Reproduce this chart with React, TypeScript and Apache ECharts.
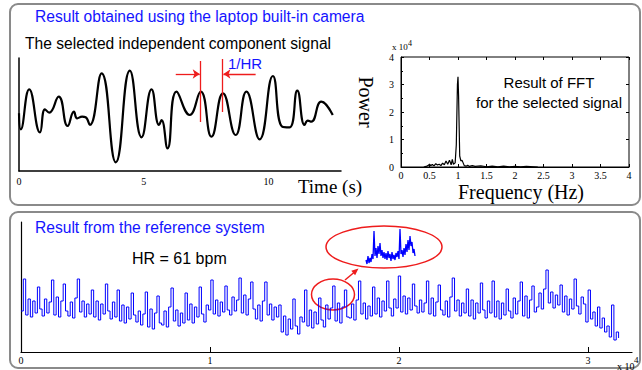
import React, { useEffect, useRef } from "react";
import * as echarts from "echarts";

// ---- Top-left: selected independent component signal (time s, amplitude) ----
const SIG_T = [0, 0.07, 0.41, 0.84, 1.04, 1.21, 1.59, 1.95, 2.2, 2.33, 2.53, 2.67, 2.84, 3.31, 3.88, 4.44, 4.91, 5.31, 5.61, 5.71, 5.95, 6.31, 6.84, 7.28, 7.71, 8.17, 8.68, 9.11, 9.64, 10.17, 10.55, 10.84, 11.15, 11.44, 11.57, 11.71, 12.11, 12.57];
const SIG_V = [0.37, -1.23, 2.77, -1.53, 0.77, 0.43, 2.03, -0.9, 0.53, -0.13, 0.03, -0.03, -0.8, 4.37, -4.53, 4.63, -2.03, 2.77, -0.8, -0.3, -3.13, 2.53, 0.2, 2.53, -1.97, 2.37, -1.8, 2.53, -2.23, 4.1, -0.97, -1.03, 2.63, -0.8, -0.37, -0.47, 1.53, 0.2];
const SIG_TICKS = [0, 5, 10];

// ---- Top-right: FFT of the selected signal (Hz, power x10^4) ----
const FFT_F = [0.4, 0.44, 0.48, 0.5, 0.52, 0.55, 0.58, 0.61, 0.64, 0.67, 0.7, 0.73, 0.76, 0.79, 0.82, 0.85, 0.88, 0.9, 0.92, 0.95, 0.97, 0.99, 1.0, 1.01, 1.03, 1.05, 1.07, 1.09, 1.11, 1.14, 1.17, 1.2, 1.25, 1.3, 1.4, 1.5, 1.6, 1.7, 1.8, 1.9, 2.0, 2.1, 2.2, 2.4];
const FFT_P = [0, 0.02, 0.06, 0.1, 0.05, 0.09, 0.04, 0.12, 0.07, 0.1, 0.05, 0.14, 0.08, 0.22, 0.1, 0.25, 0.08, 0.28, 0.1, 0.15, 0.8, 3.0, 3.28, 2.6, 0.4, 0.22, 0.25, 0.15, 0.05, 0.03, 0.06, 0.02, 0.05, 0.02, 0.04, 0.01, 0.03, 0.01, 0.03, 0.01, 0.02, 0.01, 0.02, 0];

// ---- Bottom: reference system signal (sample index, amplitude) ----
const REF_STEP = 124;
const REF_V = [
  41, 73, 37, 53, 35, 51, 39, 65, 43, 36,
  53, 39, 50, 72, 37, 55, 35, 51, 68, 41,
  36, 50, 34, 54, 73, 40, 51, 35, 48, 38,
  62, 35, 51, 32, 48, 38, 68, 41, 33, 50,
  35, 62, 31, 47, 29, 45, 33, 59, 37, 30,
  41, 27, 38, 60, 25, 43, 23, 39, 56, 29,
  27, 41, 25, 45, 64, 31, 42, 26, 39, 29,
  59, 32, 48, 29, 45, 35, 65, 38, 30, 47,
  42, 72, 38, 52, 36, 50, 40, 66, 42, 37,
  55, 41, 52, 74, 39, 57, 37, 53, 70, 43,
  33, 47, 31, 51, 70, 37, 48, 32, 45, 35,
  47, 20, 36, 17, 33, 23, 53, 26, 18, 35,
  30, 62, 26, 42, 24, 40, 28, 54, 32, 25,
  47, 33, 44, 66, 31, 49, 29, 45, 62, 35,
  34, 48, 32, 52, 71, 38, 49, 33, 46, 36,
  65, 38, 54, 35, 51, 41, 71, 44, 36, 53,
  44, 76, 40, 56, 38, 54, 42, 68, 46, 39,
  52, 40, 49, 71, 38, 54, 36, 50, 67, 42,
  37, 51, 35, 55, 74, 41, 52, 36, 49, 39,
  63, 36, 52, 33, 49, 39, 69, 42, 34, 51,
  39, 71, 35, 51, 33, 49, 37, 63, 41, 34,
  54, 38, 51, 70, 36, 56, 34, 52, 66, 40,
  45, 59, 43, 63, 82, 49, 60, 44, 57, 47,
  67, 40, 56, 37, 53, 43, 73, 46, 38, 55,
  48, 30, 62, 33, 40, 26, 45, 24, 34, 20,
  26, 15, 47, 12, 20, 14,
];
const REF_TICKS = [0, 10000, 20000, 30000];

// ---- Inset: magnified piece of the reference signal ----
const INSET_V = [8, 4, 12, 5, 10, 6, 14, 9, 37, 12, 20, 10, 22, 14, 25, 12, 18, 10, 16, 9, 15, 8, 17, 10, 14, 7, 16, 9, 13, 8, 15, 11, 17, 9, 39, 14, 18, 11, 20, 13, 24, 16, 28, 18, 32, 22, 26, 15, 19, 12];

const SANS = "'Liberation Sans', Arial, sans-serif";
const SERIF = "'Liberation Serif', 'Times New Roman', serif";
const BLUE = "#1414ff";
const RED = "#ee1c1c";

export default function App() {
  const ref = useRef<HTMLDivElement>(null);
  useEffect(() => {
    if (!ref.current) return;
    const chart = echarts.init(ref.current, undefined, { renderer: "svg" });
    const sigData = SIG_T.map((t, i) => [t, SIG_V[i]]);
    const fftData = FFT_F.map((f, i) => [f, FFT_P[i]]);
    const refData = REF_V.map((v, i) => [i * REF_STEP, v]);
    const insetData = INSET_V.map((v, i) => [i, v]);

    const tickLabel = { fontFamily: SERIF, fontSize: 10, color: "#000" };
    const hidden = { show: false };

    const option: any = {
      animation: false,
      grid: [
        { left: 19, top: 58, width: 322, height: 113 },
        { left: 401, top: 57, width: 228, height: 110, show: true, borderColor: "#000", borderWidth: 1 },
        { left: 21, top: 222, width: 611, height: 130 },
        { left: 366, top: 228, width: 49, height: 40 },
      ],
      xAxis: [
        {
          gridIndex: 0, type: "value", min: 0, max: 12.9, interval: 5,
          axisLine: { show: true, onZero: false, lineStyle: { color: "#000", width: 1.5 } },
          axisTick: hidden, splitLine: hidden,
          axisLabel: { ...tickLabel, margin: 5, customValues: SIG_TICKS },
        },
        {
          gridIndex: 1, type: "value", min: 0, max: 4, interval: 0.5,
          axisLine: { show: true, onZero: false, lineStyle: { color: "#000", width: 1 } },
          axisTick: { inside: true, length: 3, lineStyle: { color: "#000" } },
          splitLine: hidden,
          axisLabel: { ...tickLabel, margin: 3 },
        },
        {
          gridIndex: 1, type: "value", position: "top", min: 0, max: 4, interval: 0.5,
          axisLine: { show: false, onZero: false }, axisLabel: hidden, splitLine: hidden,
          axisTick: { inside: true, length: 3, lineStyle: { color: "#000" } },
        },
        {
          gridIndex: 2, type: "value", min: 0, max: 32330, interval: 10000,
          axisLine: { show: true, onZero: false, lineStyle: { color: "#000", width: 1.2 } },
          axisTick: { inside: true, length: 5, lineStyle: { color: "#000" }, customValues: REF_TICKS },
          splitLine: hidden,
          axisLabel: { ...tickLabel, margin: 3, customValues: REF_TICKS, formatter: (v: number) => String(v / 10000) },
        },
        { gridIndex: 3, type: "value", min: 0, max: INSET_V.length - 1, show: false },
      ],
      yAxis: [
        {
          gridIndex: 0, type: "value", min: -5.4, max: 5.9,
          axisLine: { show: true, onZero: false, lineStyle: { color: "#000", width: 1.5 } },
          axisTick: hidden, axisLabel: hidden, splitLine: hidden,
        },
        {
          gridIndex: 1, type: "value", min: 0, max: 4, interval: 1,
          axisLine: { show: true, onZero: false, lineStyle: { color: "#000", width: 1 } },
          axisTick: { inside: true, length: 3, lineStyle: { color: "#000" } },
          minorTick: { show: true, splitNumber: 2, length: 2, lineStyle: { color: "#000" } },
          splitLine: hidden,
          axisLabel: { ...tickLabel, margin: 7 },
        },
        {
          gridIndex: 1, type: "value", position: "right", min: 0, max: 4, interval: 1,
          axisLine: { show: false, onZero: false }, axisLabel: hidden, splitLine: hidden,
          axisTick: { inside: true, length: 3, lineStyle: { color: "#000" } },
        },
        {
          gridIndex: 2, type: "value", min: 0, max: 130,
          axisLine: { show: true, onZero: false, lineStyle: { color: "#000", width: 1.2 } },
          axisTick: hidden, axisLabel: hidden, splitLine: hidden,
        },
        { gridIndex: 3, type: "value", min: 0, max: 40, show: false },
      ],
      series: [
        {
          type: "line", xAxisIndex: 0, yAxisIndex: 0, data: sigData,
          smooth: 0.5, showSymbol: false, symbol: "none",
          lineStyle: { color: "#000", width: 2.2 },
          markLine: {
            silent: true, symbol: ["none", "none"], symbolSize: 7,
            label: { show: false },
            lineStyle: { color: RED, width: 1.3, type: "solid" },
            data: [
              [{ coord: [7.28, 5.6] }, { coord: [7.28, -0.5] }],
              [{ coord: [8.15, 5.8] }, { coord: [8.15, 0.5] }],
              [{ coord: [6.28, 4.3] }, { coord: [7.24, 4.3], symbol: "arrow" }],
              [{ coord: [9.48, 4.3] }, { coord: [8.19, 4.3], symbol: "arrow" }],
            ],
          },
        },
        {
          type: "line", xAxisIndex: 1, yAxisIndex: 1, data: fftData,
          showSymbol: false, symbol: "none",
          lineStyle: { color: "#000", width: 1.2 },
        },
        {
          type: "line", xAxisIndex: 3, yAxisIndex: 3, data: refData,
          showSymbol: false, symbol: "none", step: "end",
          lineStyle: { color: "#0000ff", width: 1 },
        },
        {
          type: "line", xAxisIndex: 4, yAxisIndex: 4, data: insetData,
          showSymbol: false, symbol: "none",
          lineStyle: { color: "#0000ff", width: 1.3 },
        },
      ],
      graphic: [
        { type: "rect", shape: { x: 10, y: 4, width: 630, height: 201, r: 8 }, style: { fill: "none", stroke: "#8a8a8a", lineWidth: 2 }, z: -1 },
        { type: "rect", shape: { x: 10, y: 212, width: 630, height: 156, r: 8 }, style: { fill: "none", stroke: "#8a8a8a", lineWidth: 2 }, z: -1 },
        { type: "text", x: 35, y: 16, style: { text: "Result obtained using the laptop built-in camera", fill: BLUE, font: `15.6px ${SANS}`, textVerticalAlign: "middle" } },
        { type: "text", x: 25, y: 43, style: { text: "The selected independent component signal", fill: "#000", font: `15.6px ${SANS}`, textVerticalAlign: "middle" } },
        { type: "text", x: 228, y: 63, style: { text: "1/HR", fill: BLUE, font: `15px ${SANS}`, textVerticalAlign: "middle" } },
        { type: "text", x: 330, y: 186, style: { text: "Time (s)", fill: "#000", font: `19px ${SERIF}`, textAlign: "center", textVerticalAlign: "middle" } },
        { type: "text", x: 366, y: 102, rotation: -Math.PI / 2, style: { text: "Power", fill: "#000", font: `20px ${SERIF}`, textAlign: "center", textVerticalAlign: "middle" } },
        { type: "text", x: 392, y: 47, style: { text: "x 10", fill: "#000", font: `9px ${SERIF}`, textVerticalAlign: "middle" } },
        { type: "text", x: 408, y: 43, style: { text: "4", fill: "#000", font: `8px ${SERIF}`, textVerticalAlign: "middle" } },
        { type: "text", x: 549, y: 82, style: { text: "Result of FFT", fill: "#000", font: `15px ${SANS}`, textAlign: "center", textVerticalAlign: "middle" } },
        { type: "text", x: 549, y: 102, style: { text: "for the selected signal", fill: "#000", font: `15px ${SANS}`, textAlign: "center", textVerticalAlign: "middle" } },
        { type: "text", x: 521, y: 192, style: { text: "Frequency (Hz)", fill: "#000", font: `20px ${SERIF}`, textAlign: "center", textVerticalAlign: "middle" } },
        { type: "text", x: 35, y: 227, style: { text: "Result from the reference system", fill: BLUE, font: `15.6px ${SANS}`, textVerticalAlign: "middle" } },
        { type: "text", x: 132, y: 258, style: { text: "HR = 61 bpm", fill: "#000", font: `16px ${SANS}`, textVerticalAlign: "middle" } },
        { type: "text", x: 617, y: 366, style: { text: "x 10", fill: "#000", font: `10px ${SERIF}`, textVerticalAlign: "middle" } },
        { type: "text", x: 634, y: 360, style: { text: "4", fill: "#000", font: `9px ${SERIF}`, textVerticalAlign: "middle" } },
        { type: "ellipse", shape: { cx: 384, cy: 247, rx: 58, ry: 21 }, style: { fill: "none", stroke: RED, lineWidth: 1.5 } },
        { type: "ellipse", shape: { cx: 333, cy: 294.5, rx: 21.5, ry: 15.5 }, style: { fill: "none", stroke: RED, lineWidth: 1.5 } },
        { type: "line", shape: { x1: 345, y1: 280, x2: 354, y2: 272.5 }, style: { stroke: RED, lineWidth: 1.5 } },
        { type: "polygon", shape: { points: [[358.5, 268.5], [355.1, 275.3], [351.3, 270.7]] }, style: { fill: RED } },
      ],
    };
    chart.setOption(option);
    return () => chart.dispose();
  }, []);
  return (
    <div
      ref={ref}
      style={{ position: "fixed", left: 0, top: 0, width: 642, height: 370, background: "#fff" }}
    />
  );
}
